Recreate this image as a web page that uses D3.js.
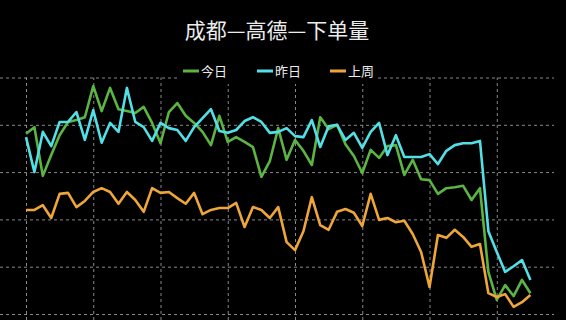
<!DOCTYPE html>
<html>
<head>
<meta charset="utf-8">
<script src="https://cdn.jsdelivr.net/npm/d3@7"></script>
<style>
  html,body{margin:0;padding:0;background:#000;}
  svg{display:block;}
</style>
</head>
<body>
<div id="chart"></div>
<script>
// series (61 points, arbitrary units, grid step = 100)
const today = [381,395,292,336,378,406,410,416,482,429, 478,433,429,425,438,404,361,427,446,419,
  404,385,357,419,364,374,364,353,290,323, 393,326,368,345,315,416,391,400,359,334,
  298,347,330,355,357,294,326,285,283,254, 266,268,271,241,266,89,30,61,38,72, 44];
const yesterday = [374,300,385,355,406,406,427,368,431,362, 404,385,478,406,395,366,404,393,389,366,
  395,414,433,387,383,389,408,416,406,383, 385,393,376,374,410,353,397,400,368,383,
  351,385,404,336,378,332,332,332,338,317, 345,357,361,361,366,175,131,89,101,114, 72];
const lastWeek = [220,220,230,203,254,256,226,239,258,266, 258,233,258,241,216,266,256,258,245,233,
  256,211,220,224,224,235,184,226,220,203, 226,152,135,175,247,188,178,216,222,214,
  186,254,199,203,194,197,169,131,57,167, 161,178,163,142,148,44,36,42,15,25, 40];
const seriesNames = ["今日","昨日","上周"];
const seriesColors = ["#5cb443","#52dfe6","#eea53a"];
const yTicks = [0,100,200,300,400,500];
const xTicks = [0,8,16,24,32,40,48,56];

const W=566, H=320;
const svg=d3.select("#chart").append("svg").attr("width",W).attr("height",H);
svg.append("rect").attr("width",W).attr("height",H).attr("fill","#000");

const x=d3.scaleLinear().domain([0,60]).range([26,530.4]);
const y=d3.scaleLinear().domain([0,500]).range([314,77.5]);

// grid
svg.append("g").attr("class","grid")
  .call(d3.axisLeft(y).tickValues(yTicks).tickSize(-554).tickFormat(""));
svg.append("g").attr("class","grid").attr("transform",`translate(0,${H})`)
  .call(d3.axisBottom(x).tickValues(xTicks).tickSize(-(H-77.5)).tickFormat(""));
svg.selectAll(".grid .domain").remove();
svg.selectAll(".grid line").attr("stroke","#a0a0a0").attr("stroke-width",1)
  .attr("stroke-dasharray","3,3").attr("opacity",0.85);

// lines
const line=d3.line().x((d,i)=>x(i)).y(d=>y(d));
[today,yesterday,lastWeek].forEach((s,k)=>{
  svg.append("path").datum(s).attr("d",line).attr("fill","none")
    .attr("stroke",seriesColors[k]).attr("stroke-width",2.6)
    .attr("stroke-linejoin","round");
});

// title
svg.append("text").attr("x",277).attr("y",38).attr("text-anchor","middle")
  .attr("fill","#ececec").attr("font-family","'Noto Sans CJK SC',sans-serif")
  .attr("font-size",21).text("成都—高德—下单量");

// legend
const lg=svg.append("g");
lg.append("rect").attr("x",178).attr("y",58).attr("width",199).attr("height",26).attr("fill","#000");
const legX=[183,257,330];
seriesNames.forEach((n,k)=>{
  lg.append("line").attr("x1",legX[k]).attr("x2",legX[k]+16).attr("y1",71).attr("y2",71)
    .attr("stroke",seriesColors[k]).attr("stroke-width",3);
  lg.append("text").attr("x",legX[k]+18).attr("y",76).attr("fill","#ececec")
    .attr("font-family","'Noto Sans CJK SC',sans-serif").attr("font-size",13).text(n);
});
</script>
</body>
</html>
